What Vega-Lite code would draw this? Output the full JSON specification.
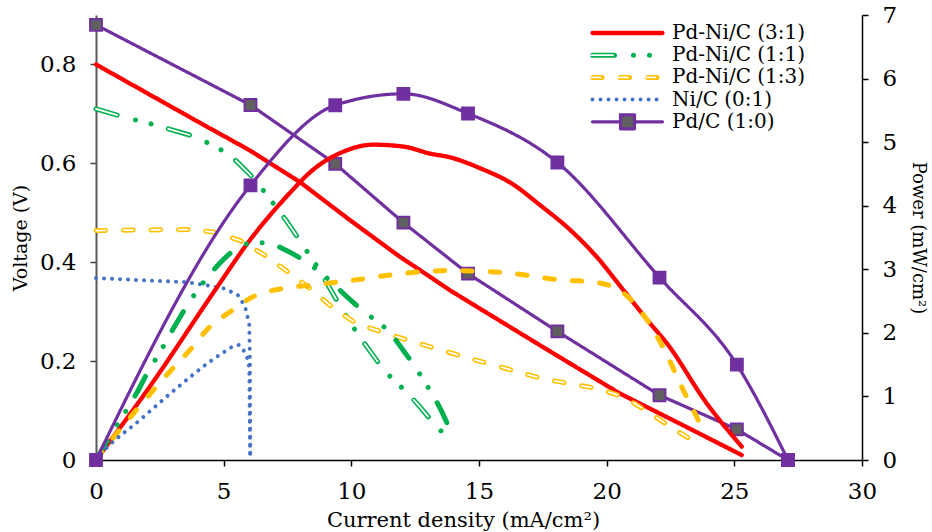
{
  "$schema": "https://vega.github.io/schema/vega-lite/v6.json",
  "width": 766,
  "height": 445,
  "autosize": {"type": "none"},
  "padding": {"left": 96, "top": 15, "right": 70, "bottom": 72},
  "config": {
    "view": {"stroke": null},
    "font": "DejaVu Serif",
    "axis": {"grid": false, "labelFont": "DejaVu Serif", "titleFont": "DejaVu Serif", "labelColor": "black", "titleColor": "black", "titleFontWeight": "normal", "labelFontSize": 23, "labelFlush": false, "labelOverlap": false, "tickSize": 6}
  },
  "datasets": {
    "curves": [
      {"s": "Pd-Ni/C (3:1)", "k": "V", "x": 0, "y": 0.8},
      {"s": "Pd-Ni/C (3:1)", "k": "V", "x": 2, "y": 0.742},
      {"s": "Pd-Ni/C (3:1)", "k": "V", "x": 4, "y": 0.684},
      {"s": "Pd-Ni/C (3:1)", "k": "V", "x": 6.03, "y": 0.626},
      {"s": "Pd-Ni/C (3:1)", "k": "V", "x": 7.99, "y": 0.562},
      {"s": "Pd-Ni/C (3:1)", "k": "V", "x": 9.95, "y": 0.485},
      {"s": "Pd-Ni/C (3:1)", "k": "V", "x": 11.9, "y": 0.411},
      {"s": "Pd-Ni/C (3:1)", "k": "V", "x": 12.69, "y": 0.384},
      {"s": "Pd-Ni/C (3:1)", "k": "V", "x": 13.87, "y": 0.343},
      {"s": "Pd-Ni/C (3:1)", "k": "V", "x": 15.04, "y": 0.306},
      {"s": "Pd-Ni/C (3:1)", "k": "V", "x": 17.39, "y": 0.232},
      {"s": "Pd-Ni/C (3:1)", "k": "V", "x": 20.5, "y": 0.135},
      {"s": "Pd-Ni/C (3:1)", "k": "V", "x": 23, "y": 0.07},
      {"s": "Pd-Ni/C (3:1)", "k": "V", "x": 25.29, "y": 0.01},
      {"s": "Pd-Ni/C (1:1)", "k": "V", "x": 0, "y": 0.71},
      {"s": "Pd-Ni/C (1:1)", "k": "V", "x": 1.07, "y": 0.694},
      {"s": "Pd-Ni/C (1:1)", "k": "V", "x": 2.3, "y": 0.678},
      {"s": "Pd-Ni/C (1:1)", "k": "V", "x": 3.94, "y": 0.653},
      {"s": "Pd-Ni/C (1:1)", "k": "V", "x": 5.05, "y": 0.623},
      {"s": "Pd-Ni/C (1:1)", "k": "V", "x": 5.51, "y": 0.604},
      {"s": "Pd-Ni/C (1:1)", "k": "V", "x": 6.19, "y": 0.569},
      {"s": "Pd-Ni/C (1:1)", "k": "V", "x": 6.68, "y": 0.537},
      {"s": "Pd-Ni/C (1:1)", "k": "V", "x": 7.44, "y": 0.485},
      {"s": "Pd-Ni/C (1:1)", "k": "V", "x": 8.06, "y": 0.438},
      {"s": "Pd-Ni/C (1:1)", "k": "V", "x": 8.75, "y": 0.384},
      {"s": "Pd-Ni/C (1:1)", "k": "V", "x": 9.62, "y": 0.306},
      {"s": "Pd-Ni/C (1:1)", "k": "V", "x": 10.27, "y": 0.253},
      {"s": "Pd-Ni/C (1:1)", "k": "V", "x": 11.3, "y": 0.18},
      {"s": "Pd-Ni/C (1:1)", "k": "V", "x": 12.19, "y": 0.136},
      {"s": "Pd-Ni/C (1:1)", "k": "V", "x": 12.63, "y": 0.111},
      {"s": "Pd-Ni/C (1:1)", "k": "V", "x": 13.34, "y": 0.067},
      {"s": "Pd-Ni/C (1:1)", "k": "V", "x": 13.8, "y": 0.045},
      {"s": "Pd-Ni/C (1:3)", "k": "V", "x": 0, "y": 0.464},
      {"s": "Pd-Ni/C (1:3)", "k": "V", "x": 1.5, "y": 0.465},
      {"s": "Pd-Ni/C (1:3)", "k": "V", "x": 3.7, "y": 0.466},
      {"s": "Pd-Ni/C (1:3)", "k": "V", "x": 4.6, "y": 0.461},
      {"s": "Pd-Ni/C (1:3)", "k": "V", "x": 5.64, "y": 0.444},
      {"s": "Pd-Ni/C (1:3)", "k": "V", "x": 6.62, "y": 0.414},
      {"s": "Pd-Ni/C (1:3)", "k": "V", "x": 7.53, "y": 0.38},
      {"s": "Pd-Ni/C (1:3)", "k": "V", "x": 8.38, "y": 0.347},
      {"s": "Pd-Ni/C (1:3)", "k": "V", "x": 9.23, "y": 0.31},
      {"s": "Pd-Ni/C (1:3)", "k": "V", "x": 10.14, "y": 0.278},
      {"s": "Pd-Ni/C (1:3)", "k": "V", "x": 11.12, "y": 0.26},
      {"s": "Pd-Ni/C (1:3)", "k": "V", "x": 12.23, "y": 0.242},
      {"s": "Pd-Ni/C (1:3)", "k": "V", "x": 13.28, "y": 0.226},
      {"s": "Pd-Ni/C (1:3)", "k": "V", "x": 14.32, "y": 0.21},
      {"s": "Pd-Ni/C (1:3)", "k": "V", "x": 15.37, "y": 0.195},
      {"s": "Pd-Ni/C (1:3)", "k": "V", "x": 16.4, "y": 0.18},
      {"s": "Pd-Ni/C (1:3)", "k": "V", "x": 17.46, "y": 0.165},
      {"s": "Pd-Ni/C (1:3)", "k": "V", "x": 18.57, "y": 0.154},
      {"s": "Pd-Ni/C (1:3)", "k": "V", "x": 19.6, "y": 0.145},
      {"s": "Pd-Ni/C (1:3)", "k": "V", "x": 20.66, "y": 0.128},
      {"s": "Pd-Ni/C (1:3)", "k": "V", "x": 21.6, "y": 0.098},
      {"s": "Pd-Ni/C (1:3)", "k": "V", "x": 22.5, "y": 0.067},
      {"s": "Pd-Ni/C (1:3)", "k": "V", "x": 23.66, "y": 0.03},
      {"s": "Ni/C (0:1)", "k": "V", "x": 0, "y": 0.368},
      {"s": "Ni/C (0:1)", "k": "V", "x": 2, "y": 0.363},
      {"s": "Ni/C (0:1)", "k": "V", "x": 3.5, "y": 0.36},
      {"s": "Ni/C (0:1)", "k": "V", "x": 4.14, "y": 0.355},
      {"s": "Ni/C (0:1)", "k": "V", "x": 5.01, "y": 0.347},
      {"s": "Ni/C (0:1)", "k": "V", "x": 5.31, "y": 0.34},
      {"s": "Ni/C (0:1)", "k": "V", "x": 5.57, "y": 0.333},
      {"s": "Ni/C (0:1)", "k": "V", "x": 5.84, "y": 0.31},
      {"s": "Ni/C (0:1)", "k": "V", "x": 6.0, "y": 0.276},
      {"s": "Ni/C (0:1)", "k": "V", "x": 6.03, "y": 0.2},
      {"s": "Ni/C (0:1)", "k": "V", "x": 6.04, "y": 0},
      {"s": "Pd/C (1:0)", "k": "V", "x": 0, "y": 0.88},
      {"s": "Pd/C (1:0)", "k": "V", "x": 6.05, "y": 0.718},
      {"s": "Pd/C (1:0)", "k": "V", "x": 9.37, "y": 0.599},
      {"s": "Pd/C (1:0)", "k": "V", "x": 12.04, "y": 0.48},
      {"s": "Pd/C (1:0)", "k": "V", "x": 14.57, "y": 0.377},
      {"s": "Pd/C (1:0)", "k": "V", "x": 18.07, "y": 0.26},
      {"s": "Pd/C (1:0)", "k": "V", "x": 22.07, "y": 0.131},
      {"s": "Pd/C (1:0)", "k": "V", "x": 25.1, "y": 0.062},
      {"s": "Pd/C (1:0)", "k": "V", "x": 27.1, "y": 0},
      {"s": "Pd-Ni/C (3:1)", "k": "P", "x": 0, "y": 0},
      {"s": "Pd-Ni/C (3:1)", "k": "P", "x": 2.1, "y": 1.15},
      {"s": "Pd-Ni/C (3:1)", "k": "P", "x": 4.66, "y": 2.67},
      {"s": "Pd-Ni/C (3:1)", "k": "P", "x": 6.03, "y": 3.46},
      {"s": "Pd-Ni/C (3:1)", "k": "P", "x": 7.34, "y": 4.09},
      {"s": "Pd-Ni/C (3:1)", "k": "P", "x": 8.64, "y": 4.61},
      {"s": "Pd-Ni/C (3:1)", "k": "P", "x": 9.69, "y": 4.85},
      {"s": "Pd-Ni/C (3:1)", "k": "P", "x": 10.86, "y": 4.96},
      {"s": "Pd-Ni/C (3:1)", "k": "P", "x": 12.04, "y": 4.93},
      {"s": "Pd-Ni/C (3:1)", "k": "P", "x": 13.08, "y": 4.82},
      {"s": "Pd-Ni/C (3:1)", "k": "P", "x": 13.87, "y": 4.76},
      {"s": "Pd-Ni/C (3:1)", "k": "P", "x": 15.04, "y": 4.59},
      {"s": "Pd-Ni/C (3:1)", "k": "P", "x": 16.28, "y": 4.35},
      {"s": "Pd-Ni/C (3:1)", "k": "P", "x": 17.39, "y": 4.01},
      {"s": "Pd-Ni/C (3:1)", "k": "P", "x": 18.57, "y": 3.62},
      {"s": "Pd-Ni/C (3:1)", "k": "P", "x": 19.6, "y": 3.2},
      {"s": "Pd-Ni/C (3:1)", "k": "P", "x": 20.66, "y": 2.67},
      {"s": "Pd-Ni/C (3:1)", "k": "P", "x": 21.7, "y": 2.15},
      {"s": "Pd-Ni/C (3:1)", "k": "P", "x": 22.35, "y": 1.84},
      {"s": "Pd-Ni/C (3:1)", "k": "P", "x": 23.92, "y": 0.89},
      {"s": "Pd-Ni/C (3:1)", "k": "P", "x": 25.29, "y": 0.21},
      {"s": "Pd-Ni/C (1:1)", "k": "P", "x": 0, "y": 0},
      {"s": "Pd-Ni/C (1:1)", "k": "P", "x": 0.55, "y": 0.37},
      {"s": "Pd-Ni/C (1:1)", "k": "P", "x": 1.59, "y": 1.05},
      {"s": "Pd-Ni/C (1:1)", "k": "P", "x": 2.11, "y": 1.44},
      {"s": "Pd-Ni/C (1:1)", "k": "P", "x": 2.44, "y": 1.65},
      {"s": "Pd-Ni/C (1:1)", "k": "P", "x": 3.03, "y": 2.07},
      {"s": "Pd-Ni/C (1:1)", "k": "P", "x": 3.62, "y": 2.46},
      {"s": "Pd-Ni/C (1:1)", "k": "P", "x": 4.36, "y": 2.87},
      {"s": "Pd-Ni/C (1:1)", "k": "P", "x": 4.79, "y": 3.07},
      {"s": "Pd-Ni/C (1:1)", "k": "P", "x": 5.64, "y": 3.36},
      {"s": "Pd-Ni/C (1:1)", "k": "P", "x": 6.23, "y": 3.42},
      {"s": "Pd-Ni/C (1:1)", "k": "P", "x": 6.84, "y": 3.4},
      {"s": "Pd-Ni/C (1:1)", "k": "P", "x": 7.44, "y": 3.3},
      {"s": "Pd-Ni/C (1:1)", "k": "P", "x": 8.32, "y": 3.09},
      {"s": "Pd-Ni/C (1:1)", "k": "P", "x": 9.0, "y": 2.88},
      {"s": "Pd-Ni/C (1:1)", "k": "P", "x": 9.82, "y": 2.57},
      {"s": "Pd-Ni/C (1:1)", "k": "P", "x": 10.67, "y": 2.28},
      {"s": "Pd-Ni/C (1:1)", "k": "P", "x": 11.15, "y": 2.14},
      {"s": "Pd-Ni/C (1:1)", "k": "P", "x": 11.6, "y": 1.96},
      {"s": "Pd-Ni/C (1:1)", "k": "P", "x": 11.97, "y": 1.76},
      {"s": "Pd-Ni/C (1:1)", "k": "P", "x": 12.62, "y": 1.39},
      {"s": "Pd-Ni/C (1:1)", "k": "P", "x": 12.95, "y": 1.18},
      {"s": "Pd-Ni/C (1:1)", "k": "P", "x": 13.28, "y": 0.96},
      {"s": "Pd-Ni/C (1:1)", "k": "P", "x": 13.58, "y": 0.73},
      {"s": "Pd-Ni/C (1:1)", "k": "P", "x": 14.0, "y": 0.33},
      {"s": "Pd-Ni/C (1:3)", "k": "P", "x": 0, "y": 0},
      {"s": "Pd-Ni/C (1:3)", "k": "P", "x": 0.4, "y": 0.21},
      {"s": "Pd-Ni/C (1:3)", "k": "P", "x": 1.59, "y": 0.79},
      {"s": "Pd-Ni/C (1:3)", "k": "P", "x": 2.96, "y": 1.42},
      {"s": "Pd-Ni/C (1:3)", "k": "P", "x": 3.68, "y": 1.73},
      {"s": "Pd-Ni/C (1:3)", "k": "P", "x": 4.47, "y": 2.1},
      {"s": "Pd-Ni/C (1:3)", "k": "P", "x": 5.25, "y": 2.33},
      {"s": "Pd-Ni/C (1:3)", "k": "P", "x": 6.16, "y": 2.57},
      {"s": "Pd-Ni/C (1:3)", "k": "P", "x": 7.34, "y": 2.7},
      {"s": "Pd-Ni/C (1:3)", "k": "P", "x": 8.64, "y": 2.76},
      {"s": "Pd-Ni/C (1:3)", "k": "P", "x": 10.47, "y": 2.85},
      {"s": "Pd-Ni/C (1:3)", "k": "P", "x": 11.9, "y": 2.93},
      {"s": "Pd-Ni/C (1:3)", "k": "P", "x": 13.87, "y": 2.98},
      {"s": "Pd-Ni/C (1:3)", "k": "P", "x": 15.04, "y": 2.97},
      {"s": "Pd-Ni/C (1:3)", "k": "P", "x": 15.95, "y": 2.95},
      {"s": "Pd-Ni/C (1:3)", "k": "P", "x": 18.3, "y": 2.83},
      {"s": "Pd-Ni/C (1:3)", "k": "P", "x": 19.48, "y": 2.8},
      {"s": "Pd-Ni/C (1:3)", "k": "P", "x": 20.5, "y": 2.67},
      {"s": "Pd-Ni/C (1:3)", "k": "P", "x": 21.3, "y": 2.36},
      {"s": "Pd-Ni/C (1:3)", "k": "P", "x": 22.2, "y": 1.78},
      {"s": "Pd-Ni/C (1:3)", "k": "P", "x": 23.0, "y": 1.1},
      {"s": "Pd-Ni/C (1:3)", "k": "P", "x": 23.85, "y": 0.42},
      {"s": "Ni/C (0:1)", "k": "P", "x": 0, "y": 0},
      {"s": "Ni/C (0:1)", "k": "P", "x": 0.35, "y": 0.16},
      {"s": "Ni/C (0:1)", "k": "P", "x": 1.72, "y": 0.63},
      {"s": "Ni/C (0:1)", "k": "P", "x": 3.16, "y": 1.13},
      {"s": "Ni/C (0:1)", "k": "P", "x": 4.47, "y": 1.55},
      {"s": "Ni/C (0:1)", "k": "P", "x": 5.1, "y": 1.72},
      {"s": "Ni/C (0:1)", "k": "P", "x": 5.44, "y": 1.8},
      {"s": "Ni/C (0:1)", "k": "P", "x": 5.6, "y": 1.81},
      {"s": "Ni/C (0:1)", "k": "P", "x": 5.77, "y": 1.73},
      {"s": "Ni/C (0:1)", "k": "P", "x": 5.9, "y": 1.63},
      {"s": "Ni/C (0:1)", "k": "P", "x": 6.0, "y": 1.45},
      {"s": "Ni/C (0:1)", "k": "P", "x": 6.02, "y": 0.7},
      {"s": "Ni/C (0:1)", "k": "P", "x": 6.04, "y": 0},
      {"s": "Pd/C (1:0)", "k": "P", "x": 0, "y": 0},
      {"s": "Pd/C (1:0)", "k": "P", "x": 6.05, "y": 4.32},
      {"s": "Pd/C (1:0)", "k": "P", "x": 9.37, "y": 5.58},
      {"s": "Pd/C (1:0)", "k": "P", "x": 12.04, "y": 5.76},
      {"s": "Pd/C (1:0)", "k": "P", "x": 14.57, "y": 5.45},
      {"s": "Pd/C (1:0)", "k": "P", "x": 18.07, "y": 4.68},
      {"s": "Pd/C (1:0)", "k": "P", "x": 22.07, "y": 2.87},
      {"s": "Pd/C (1:0)", "k": "P", "x": 25.1, "y": 1.5},
      {"s": "Pd/C (1:0)", "k": "P", "x": 27.1, "y": 0}
    ]
  },
  "data": {"name": "curves"},
  "encoding": {
    "x": {
      "field": "x", "type": "quantitative",
      "scale": {"domain": [0, 30], "nice": false, "zero": false},
      "axis": {"values": [0, 5, 10, 15, 20, 25, 30], "format": "~g", "title": "Current density (mA/cm²)", "titleFontSize": 21, "titleX": 367, "labelPadding": 14, "titlePadding": 6, "domainColor": "black", "tickColor": "black", "domainWidth": 1.5, "tickWidth": 1.5}
    }
  },
  "layer": [
    {
      "encoding": {
        "y": {
          "field": "y", "type": "quantitative",
          "scale": {"domain": [0, 0.9], "nice": false, "zero": false},
          "axis": {"orient": "left", "values": [0, 0.2, 0.4, 0.6, 0.8], "format": "~g", "title": "Voltage (V)", "titleFontSize": 19, "labelPadding": 14, "titlePadding": 9, "domainColor": "#595959", "tickColor": "#404040", "domainWidth": 2, "tickWidth": 1.5}
        }
      },
      "layer": [
        {
          "transform": [{"filter": "datum.k === 'V'"}],
          "mark": {"type": "line", "strokeCap": "round", "strokeJoin": "round"},
          "encoding": {
            "color": {
              "field": "s", "type": "nominal",
              "scale": {"domain": ["Pd-Ni/C (3:1)", "Pd-Ni/C (1:1)", "Pd-Ni/C (1:3)", "Ni/C (0:1)", "Pd/C (1:0)"], "range": ["#FF0000", "#00B050", "#FFC000", "#4472C4", "#7030A0"]},
              "legend": {"orient": "none", "legendX": 494, "legendY": 8, "title": null, "symbolType": "stroke", "symbolSize": 4900, "symbolStrokeWidth": 3.5, "symbolFillColor": "#606060", "clipHeight": 20, "rowPadding": 2.2, "labelFontSize": 20, "labelFont": "DejaVu Serif", "labelOffset": 7, "labelColor": "black", "labelLimit": 300, "zindex": 1,
                "encode": {"symbols": {"update": {"strokeCap": {"value": "round"}}}}}
            },
            "strokeDash": {
              "field": "s", "type": "nominal",
              "scale": {"domain": ["Pd-Ni/C (3:1)", "Pd-Ni/C (1:1)", "Pd-Ni/C (1:3)", "Ni/C (0:1)", "Pd/C (1:0)"], "range": [[1, 0], [22, 19, 0.01, 16, 0.01, 18], [9.5, 18], [0.01, 8], [1, 0]]}
            },
            "strokeWidth": {
              "field": "s", "type": "nominal", "legend": null,
              "scale": {"type": "ordinal", "domain": ["Pd-Ni/C (3:1)", "Pd-Ni/C (1:1)", "Pd-Ni/C (1:3)", "Ni/C (0:1)", "Pd/C (1:0)"], "range": [4.3, 5, 5, 4, 3.2]}
            }
          }
        },
        {
          "transform": [{"filter": "datum.k === 'V' && datum.s === 'Pd-Ni/C (1:1)'"}],
          "mark": {"type": "line", "color": "white", "strokeWidth": 1.8, "strokeCap": "round", "strokeDash": [22, 53]},
          "encoding": {}
        },
        {
          "transform": [{"filter": "datum.k === 'V' && datum.s === 'Pd-Ni/C (1:3)'"}],
          "mark": {"type": "line", "color": "white", "strokeWidth": 1.8, "strokeCap": "round", "strokeDash": [9.5, 18]},
          "encoding": {}
        },
        {
          "transform": [{"filter": "false"}],
          "mark": {"type": "point", "filled": true},
          "encoding": {
            "shape": {
              "field": "s", "type": "nominal",
              "scale": {"domain": ["Pd-Ni/C (3:1)", "Pd-Ni/C (1:1)", "Pd-Ni/C (1:3)", "Ni/C (0:1)", "Pd/C (1:0)"], "range": ["stroke", "stroke", "stroke", "stroke", "M-1,0H-0.2M0.2,0H1M-0.2,-0.2H0.2V0.2H-0.2Z"]}
            }
          }
        },
        {
          "transform": [{"filter": "false"}],
          "mark": {"type": "line"},
          "encoding": {
            "stroke": {
              "field": "s", "type": "nominal",
              "scale": {"domain": ["Pd-Ni/C (1:1)", "Pd-Ni/C (1:3)"], "range": ["white", "white"]},
              "legend": {"orient": "none", "legendX": 494, "legendY": 30.2, "title": null, "symbolType": "stroke", "symbolSize": 4900, "symbolStrokeWidth": 1.8, "clipHeight": 20, "rowPadding": 2.2, "labelFontSize": 20, "labelFont": "DejaVu Serif", "labelOffset": 7, "labelExpr": "''", "labelLimit": 300, "zindex": 5,
                "encode": {"symbols": {"update": {"strokeCap": {"value": "round"}, "strokeDash": {"signal": "datum.value === 'Pd-Ni/C (1:1)' ? [22, 53] : [9.5, 18]"}}}}}
            }
          }
        },
        {
          "transform": [{"filter": "datum.k === 'V' && datum.s === 'Pd/C (1:0)'"}],
          "mark": {"type": "point", "shape": "square", "filled": true, "fill": "#606060", "stroke": "#7030A0", "strokeWidth": 2, "size": 140, "opacity": 1},
          "encoding": {}
        }
      ]
    },
    {
      "encoding": {
        "y": {
          "field": "y", "type": "quantitative",
          "scale": {"domain": [0, 7], "nice": false, "zero": false},
          "axis": {"orient": "right", "values": [0, 1, 2, 3, 4, 5, 6, 7], "format": "~g", "title": "Power (mW/cm²)", "titleFontSize": 18, "labelPadding": 14, "titlePadding": 12, "domainColor": "black", "tickColor": "black", "domainWidth": 1.5, "tickWidth": 1.5}
        }
      },
      "layer": [
        {
          "transform": [{"filter": "datum.k === 'P'"}],
          "mark": {"type": "line", "strokeCap": "round", "strokeJoin": "round", "interpolate": "monotone"},
          "encoding": {
            "color": {"field": "s", "type": "nominal"},
            "strokeDash": {"field": "s", "type": "nominal"},
            "strokeWidth": {
              "field": "s", "type": "nominal", "legend": null,
              "scale": {"type": "ordinal", "domain": ["Pd-Ni/C (3:1)", "Pd-Ni/C (1:1)", "Pd-Ni/C (1:3)", "Ni/C (0:1)", "Pd/C (1:0)"], "range": [4.3, 5, 5, 4, 3.2]}
            }
          }
        },
        {
          "transform": [{"filter": "datum.k === 'P' && datum.s === 'Pd/C (1:0)'"}],
          "mark": {"type": "point", "shape": "square", "filled": true, "fill": "#7030A0", "stroke": "#7030A0", "strokeWidth": 2, "size": 140, "opacity": 1},
          "encoding": {}
        }
      ]
    }
  ],
  "resolve": {"scale": {"y": "independent"}}
}
